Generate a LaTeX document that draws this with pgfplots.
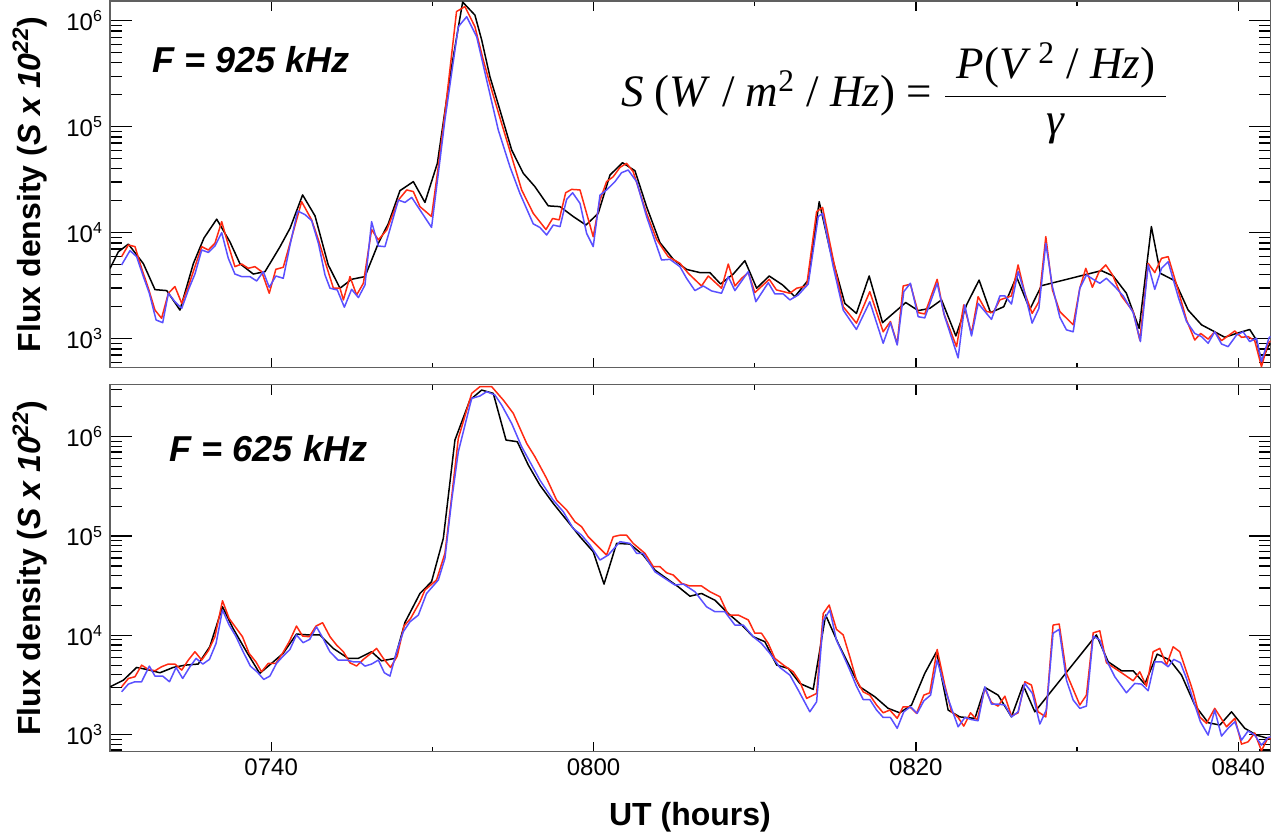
\documentclass[border=0pt]{standalone}
\usepackage{pgfplots}
\pgfplotsset{compat=1.18}
\usepackage{fontspec}
\setmainfont{Liberation Sans}
\newfontfamily\tms{Liberation Serif}
\definecolor{frame}{HTML}{606060}
\definecolor{cred}{HTML}{FF2A12}
\definecolor{cblue}{HTML}{5A50FF}
\pgfplotsset{every axis/.append style={
 scale only axis, width=580.25pt, xmin=30, xmax=102,
 axis line style={draw=frame, line width=0.8pt},
 tick style={draw=black, line width=0.6pt},
 ticklabel style={font=\fontsize{12}{14}\selectfont},
 every axis plot/.append style={line width=0.75pt, line join=round},
 ylabel style={at={(axis description cs:-0.069,0.5)}, anchor=center, font=\bfseries\fontsize{16}{18}\selectfont},
},
 xaxis/.style={xtick={40,60,80,100}, minor xtick={50,70,90}, ytick=\empty,
   major tick length=5pt, minor tick length=2.5pt},
 yaxis/.style={xtick=\empty,
   ytick={1e3,1e4,1e5,1e6},
   minor ytick={500,600,700,800,900,2000,3000,4000,5000,6000,7000,8000,9000,20000,30000,40000,50000,60000,70000,80000,90000,200000,300000,400000,500000,600000,700000,800000,900000,2000000,3000000},
   yticklabels={10\textsuperscript{3},10\textsuperscript{4},10\textsuperscript{5},10\textsuperscript{6}},
   major tick length=11pt, minor tick length=6pt,
   ylabel={Flux density (\textit{S x 10\textsuperscript{22}})}},
 toppanel/.style={at={(55pt,233.15pt)}, anchor=south west, height=183.35pt, ymin=532, ymax=1.535e6},
 botpanel/.style={at={(55pt,41.15pt)}, anchor=south west, height=183.5pt, ymin=674, ymax=3.34e6},
}
\begin{document}
\begin{tikzpicture}
\path[use as bounding box] (0,0) rectangle (637pt,417pt);
% ---------------- top panel ----------------
\begin{axis}[ymode=log, toppanel, yaxis]
\end{axis}
\begin{axis}[ymode=log, toppanel, xaxis, xticklabels={}]
\addplot[black] coordinates {
(30.0,4600)(30.52,6600)(31.14,7800)(32.07,5100)(32.79,2900)(33.52,2840)(34.34,1860)(35.17,5100)(35.83,8900)(36.62,13400)(37.44,8200)(38.06,5100)(38.89,4070)(39.62,4290)(40.55,7380)(41.17,11000)(41.95,22700)(42.72,14400)(43.54,4960)(44.27,2990)(44.99,3630)(45.82,3850)(46.65,7950)(47.27,12200)(47.99,24900)(48.82,30300)(49.54,19300)(50.31,45100)(51.09,297000)(51.88,1.5e6)(52.64,1.13e6)(53.06,658000)(53.57,297000)(54.19,144000)(54.92,60300)(55.64,36300)(56.36,27200)(57.19,17900)(57.92,17600)(58.74,14200)(59.53,11800)(60.29,15200)(61.02,35000)(61.8,45700)(62.57,38400)(63.29,17600)(64.12,8050)(64.95,5600)(65.77,4500)(66.6,4200)(67.22,4200)(67.88,3280)(68.67,4070)(69.39,5440)(70.12,2990)(70.9,3900)(71.73,3210)(72.49,2490)(73.32,3570)(74.0,19600)(74.66,7000)(75.59,2150)(76.31,1730)(77.1,3900)(77.93,1415)(78.59,1730)(79.37,2190)(80.14,1840)(80.86,1930)(81.59,2320)(82.48,1060)(83.14,2080)(83.92,3570)(84.63,1760)(85.45,2000)(86.24,3850)(87.07,1890)(87.79,3160)(91.51,4380)(92.24,3900)(93.06,2680)(93.85,1250)(94.61,11400)(95.17,4130)(96.06,3520)(96.89,1860)(97.72,1350)(98.54,1160)(99.16,1030)(99.89,1120)(100.71,1220)(101.13,970)(101.44,607)(101.85,840)(102,900)
};
\addplot[cred] coordinates {
(30.72,5940)(31.14,7650)(31.55,7390)(31.96,4610)(32.38,2990)(32.79,1860)(33.2,1555)(33.62,2680)(34.03,3100)(34.45,2150)(34.86,3100)(35.27,4780)(35.69,7380)(36.1,6860)(36.51,7940)(36.93,12700)(37.34,7650)(37.75,4780)(38.17,5060)(38.58,4610)(38.99,4780)(39.41,4290)(39.88,2680)(40.29,4510)(40.75,4710)(41.17,7950)(41.89,19600)(42.51,13200)(42.93,8540)(43.44,4780)(43.86,2990)(44.27,2990)(44.48,2320)(44.89,3850)(45.3,2580)(45.72,3330)(46.23,10700)(46.65,8540)(47.17,10600)(47.89,20300)(48.41,25300)(48.82,24400)(49.23,17600)(49.95,14200)(50.37,42000)(50.78,134000)(51.5,1.22e6)(52.02,1.36e6)(52.64,878000)(53.16,425000)(53.68,222000)(54.3,107000)(54.92,52100)(55.54,25300)(56.26,15200)(57.05,10700)(57.46,13600)(57.87,13200)(58.27,23800)(58.64,25600)(59.16,25300)(59.57,15200)(59.98,9160)(60.4,20300)(60.81,30300)(61.22,33700)(61.64,41300)(62.05,45100)(62.46,37600)(63.29,15200)(63.91,8650)(64.63,5940)(65.36,5140)(65.88,4130)(66.7,3140)(67.12,3900)(67.94,2990)(68.36,5060)(68.77,3140)(69.19,3710)(69.6,4200)(70.01,2720)(70.9,3630)(71.35,2880)(72.18,2680)(72.6,2990)(73.22,3140)(73.84,15800)(74.21,17300)(74.87,5600)(75.49,2000)(76.31,1400)(77.14,2780)(77.97,1160)(78.42,1450)(78.84,890)(79.21,3140)(79.66,3260)(80.14,1760)(80.55,1710)(81.32,3630)(81.73,1730)(82.52,840)(82.97,2080)(83.45,1120)(83.86,2490)(84.38,1800)(84.79,1760)(85.21,2320)(85.93,2530)(86.34,4960)(86.76,2680)(87.21,1730)(87.63,2230)(88.06,9170)(88.47,2880)(88.93,1800)(89.76,1350)(90.17,2990)(90.54,4610)(90.95,3050)(91.37,4290)(91.78,4960)(92.2,3990)(92.75,2530)(93.48,1800)(93.89,970)(94.41,5140)(94.82,4200)(95.24,5730)(95.65,5940)(96.27,2880)(96.79,1500)(97.3,970)(97.67,1120)(98.13,990)(98.54,1160)(98.96,957)(99.78,1180)(100.2,1030)(100.61,1045)(101.02,957)(101.44,544)(101.85,904)(102,950)
};
\addplot[cblue] coordinates {
(30.72,4960)(31.24,6770)(31.65,5940)(32.07,3850)(32.44,2680)(32.86,1500)(33.27,1415)(33.62,2680)(34.03,2230)(34.45,1930)(34.86,2880)(35.27,4070)(35.69,6860)(36.1,6510)(36.51,7480)(36.93,10000)(37.34,5730)(37.75,4070)(38.17,3850)(38.68,3850)(39.1,3500)(39.51,4290)(39.88,3050)(40.29,3900)(40.75,3710)(41.17,7650)(41.64,16000)(42.1,14800)(42.51,13000)(42.93,7940)(43.34,3990)(43.65,2990)(44.1,2880)(44.54,1980)(44.99,2920)(45.41,2440)(45.82,3210)(46.23,12700)(46.65,7480)(47.06,7380)(47.89,20300)(48.3,19300)(48.72,21500)(49.23,16400)(49.95,11200)(50.37,36300)(50.78,116000)(51.61,878000)(52.13,1.09e6)(52.75,706000)(53.37,275000)(54.09,93100)(54.81,42000)(55.43,23500)(56.26,12100)(56.67,11200)(57.09,9500)(57.5,11800)(57.92,11400)(58.33,20600)(58.7,23800)(59.16,18900)(59.57,9860)(59.98,7380)(60.4,22600)(60.81,25300)(61.33,30300)(61.74,36800)(62.15,39000)(62.67,30300)(63.29,14200)(64.22,5520)(64.74,5600)(65.36,4780)(65.77,3710)(66.29,2840)(66.81,3140)(67.32,2820)(67.94,2680)(68.36,3850)(68.77,2840)(69.6,4290)(70.07,2230)(70.84,3370)(71.25,2640)(71.77,2640)(72.18,2320)(72.7,2580)(73.32,3280)(73.94,14200)(74.21,15200)(74.87,4780)(75.49,1860)(76.31,1220)(77.14,2230)(77.97,904)(78.42,1415)(78.84,871)(79.25,2780)(79.66,3330)(80.14,1610)(80.55,1570)(81.32,3330)(81.79,1610)(82.62,658)(83.03,2080)(83.45,1060)(83.86,2150)(84.69,1520)(85.21,2530)(85.52,2530)(85.93,2120)(86.34,4290)(86.76,2680)(87.21,1400)(87.63,1930)(88.06,7930)(88.47,3100)(88.93,1590)(89.34,1210)(89.76,1160)(90.17,2990)(90.58,3990)(91.0,3630)(91.41,3330)(91.82,3710)(92.34,3100)(92.86,2530)(93.48,1760)(93.93,938)(94.41,4960)(94.82,2920)(95.24,4610)(95.65,5320)(96.27,2490)(96.79,1450)(97.3,1120)(97.72,1045)(98.13,904)(98.54,1160)(98.96,891)(99.37,840)(99.89,1080)(100.3,1160)(100.71,938)(101.13,1010)(101.44,607)(101.9,1010)(102,1050)
};
\end{axis}
% ---------------- bottom panel ----------------
\begin{axis}[ymode=log, botpanel, yaxis]
\end{axis}
\begin{axis}[ymode=log, botpanel, xaxis, xticklabels={0740,0800,0820,0840}]
\addplot[black] coordinates {
(30.0,3030)(30.83,3540)(31.65,4750)(32.27,4540)(33.1,4200)(33.92,4750)(34.65,5010)(35.47,5140)(36.19,7670)(36.98,19400)(37.64,11700)(38.47,6840)(39.29,4140)(40.02,5220)(40.74,6580)(41.57,10300)(42.29,10100)(43.02,10100)(43.85,7390)(44.78,5860)(45.4,5860)(46.23,6840)(46.85,5540)(47.68,5860)(48.3,13500)(49.23,26400)(49.95,34700)(50.68,94700)(51.4,925000)(52.33,2.34e6)(53.06,2.95e6)(53.78,2.73e6)(54.57,925000)(55.27,891000)(55.95,519000)(56.67,326000)(57.5,213000)(58.33,145000)(59.16,98400)(59.98,69500)(60.65,32800)(61.43,84300)(62.26,83000)(63.08,64300)(63.81,45400)(64.53,37400)(65.26,30800)(65.98,24800)(66.7,26400)(67.53,22600)(68.36,16600)(69.19,12700)(69.91,9680)(70.63,8630)(71.36,5020)(72.08,4650)(72.8,3280)(73.63,2860)(74.4,16000)(75.18,8290)(75.8,5220)(76.52,3030)(77.45,2410)(78.28,1840)(79.0,1660)(79.73,1990)(80.55,4140)(81.28,6840)(82.0,1770)(82.72,1510)(83.66,1460)(84.28,2990)(85.1,2500)(85.93,1510)(86.65,3160)(87.38,1700)(91.2,10100)(91.93,5420)(92.75,4400)(93.48,4400)(94.2,3230)(94.97,6470)(95.75,5640)(96.48,3980)(97.3,1990)(98.13,1320)(98.86,1250)(99.58,1700)(100.4,1160)(101.13,990)(101.85,917)(102,900)
};
\addplot[cred] coordinates {
(30.72,3030)(31.14,3680)(31.55,3830)(31.96,5010)(32.38,4540)(32.79,4400)(33.2,4830)(33.62,5140)(34.03,5140)(34.45,4470)(34.86,5640)(35.27,6840)(35.69,5640)(36.1,7000)(36.51,9680)(36.98,22300)(37.39,14800)(37.8,12000)(38.22,9680)(38.63,6580)(39.05,5420)(39.4,4300)(39.82,5220)(40.29,5220)(40.7,6580)(41.12,8630)(41.57,12400)(41.95,9840)(42.36,9680)(42.78,12400)(43.19,13400)(43.65,9680)(44.06,7980)(44.48,6840)(44.89,5290)(45.3,4910)(45.72,5730)(46.13,6470)(46.54,7390)(46.96,5860)(47.41,4750)(47.82,6180)(48.24,12400)(48.65,14800)(49.23,21800)(49.54,28600)(50.26,36100)(50.78,66900)(51.2,249000)(51.61,962000)(52.44,2.73e6)(52.95,3.19e6)(53.68,3.19e6)(54.4,2.34e6)(55.02,1.72e6)(55.85,857000)(56.36,630000)(57.09,380000)(57.71,230000)(58.33,183000)(58.85,139000)(59.26,124000)(59.67,98400)(60.29,78000)(60.81,64300)(61.22,98400)(61.64,102000)(62.05,102000)(62.46,84300)(63.19,66900)(63.71,49100)(64.12,49100)(64.53,42700)(64.95,40500)(65.46,33400)(65.98,31400)(66.7,31400)(67.22,27500)(67.84,24500)(68.36,16000)(68.98,16000)(69.6,14300)(70.01,10500)(70.42,10500)(70.84,8290)(71.25,5860)(71.87,4900)(72.39,4300)(72.8,3410)(73.22,2320)(73.84,2600)(74.25,16600)(74.62,20200)(75.07,11500)(75.49,10100)(75.9,6080)(76.31,3550)(76.73,2700)(77.14,2500)(77.56,1990)(77.97,1660)(78.38,1770)(78.84,1460)(79.21,1910)(79.62,1910)(80.04,1640)(80.49,2500)(80.86,2640)(81.32,7210)(81.79,3160)(82.21,1700)(82.62,1490)(82.97,1220)(83.39,1660)(83.8,1400)(84.28,2920)(84.69,2100)(85.1,1940)(85.52,2440)(85.93,1540)(86.34,1660)(86.76,3410)(87.17,3160)(87.58,1700)(88.06,1510)(88.51,12700)(88.89,13000)(89.34,4140)(90.17,1990)(90.58,2500)(91.0,10600)(91.41,11100)(91.82,5300)(92.75,4210)(93.48,3490)(93.89,4300)(94.3,3080)(94.72,6840)(95.13,7390)(95.55,5020)(95.96,7670)(96.37,6840)(96.79,4300)(97.2,2700)(97.61,1510)(98.03,1300)(98.54,1840)(99.27,1200)(99.79,1460)(100.2,804)(100.61,847)(101.02,1040)(101.44,689)(101.85,938)(102,900)
};
\addplot[cblue] coordinates {
(30.72,2700)(31.14,3230)(31.55,3410)(31.96,3410)(32.44,4900)(32.79,3890)(33.27,3890)(33.69,3410)(34.1,4750)(34.51,3680)(34.93,4750)(35.34,5860)(35.76,5140)(36.17,5730)(36.58,8290)(36.98,18000)(37.39,12700)(37.8,9840)(38.26,6840)(38.71,4900)(39.12,4300)(39.54,3600)(39.92,3890)(40.33,5220)(40.74,6180)(41.16,7210)(41.57,10100)(41.98,8440)(42.39,9100)(42.81,12200)(43.22,9310)(43.64,6840)(44.15,5640)(44.67,5640)(45.09,5420)(45.5,5420)(45.82,4900)(46.23,5140)(46.65,5640)(47.02,4200)(47.37,3890)(47.78,6840)(48.2,10900)(48.61,13700)(49.13,16000)(49.64,26400)(50.37,36100)(50.78,59600)(51.2,230000)(51.61,706000)(52.44,2.43e6)(52.95,2.57e6)(53.37,2.84e6)(53.88,2.63e6)(54.3,2.08e6)(54.92,1.36e6)(55.54,793000)(56.05,560000)(56.67,366000)(57.5,230000)(58.12,176000)(58.74,119000)(59.26,102000)(59.78,81100)(60.4,57300)(60.91,64300)(61.64,87700)(62.26,84300)(62.67,66900)(63.08,66900)(63.81,43700)(64.43,37400)(65.05,32100)(65.57,32800)(66.29,27500)(67.01,19400)(67.53,17300)(68.15,17300)(68.77,12700)(69.29,12700)(69.91,9680)(70.42,8290)(70.94,6580)(71.56,4750)(72.18,3980)(72.7,2810)(73.42,1700)(73.84,2140)(74.25,14000)(74.66,18000)(75.07,8960)(75.49,6320)(75.9,4470)(76.31,3080)(76.73,2260)(77.14,2260)(77.56,1770)(77.97,1490)(78.42,1490)(78.84,1160)(79.25,1700)(79.66,1910)(80.08,1640)(80.49,2190)(80.91,2500)(81.32,5640)(81.86,2700)(82.21,1840)(82.62,1200)(83.04,1490)(83.45,1420)(83.86,1380)(84.28,3030)(84.69,2030)(85.1,2030)(85.52,1990)(85.93,1510)(86.34,1700)(86.76,3280)(87.23,2600)(87.69,1280)(88.1,1790)(88.51,10500)(88.89,11500)(89.34,3540)(89.76,2230)(90.17,1840)(90.58,1940)(91.0,9840)(91.41,8960)(91.82,5640)(92.34,3830)(93.06,2640)(93.58,3280)(93.99,3230)(94.41,2770)(94.82,5420)(95.24,5420)(95.65,4830)(96.0,5730)(96.41,5300)(96.79,3680)(97.24,2140)(97.65,1350)(98.13,990)(98.54,1770)(98.96,968)(99.37,1160)(99.79,1350)(100.2,881)(100.61,1090)(101.02,990)(101.44,785)(101.85,938)(102,950)
};
\end{axis}
% ---------------- texts ----------------
\node[font=\bfseries\itshape\fontsize{18}{20}\selectfont] at (125.5pt,387pt) {F = 925 kHz};
\node[font=\bfseries\itshape\fontsize{18}{20}\selectfont] at (134.25pt,192.5pt) {F = 625 kHz};
\node[font=\bfseries\fontsize{16}{18}\selectfont, anchor=base] at (345pt,4pt) {UT (hours)};
\node[font=\tms\fontsize{22.5}{27}\selectfont] at (447.5pt,370.25pt)
 {$\displaystyle \mbox{\textit{S} (\textit{W} / \textit{m}\textsuperscript{2} / \textit{Hz}) =\ }\frac{\mbox{\ \textit{P}(\textit{V}\,\textsuperscript{2} / \textit{Hz})\ }}{\mbox{\textit{γ}}}$};
\end{tikzpicture}
\end{document}
